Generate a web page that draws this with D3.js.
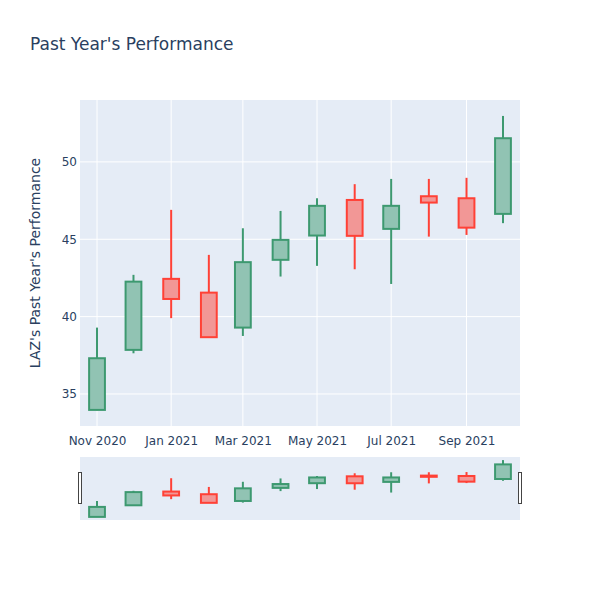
<!DOCTYPE html>
<html>
<head>
<meta charset="utf-8">
<script src="https://cdn.jsdelivr.net/npm/d3@7"></script>
<style>
  html, body { margin: 0; padding: 0; background: #fff; }
  svg { display: block; font-family: "DejaVu Sans", Verdana, sans-serif; }
</style>
</head>
<body>
<svg id="chart" width="600" height="600"></svg>
<script>
// ---- data ----
const dates = ["2020-11-01","2020-12-01","2021-01-01","2021-02-01","2021-03-01","2021-04-01",
               "2021-05-01","2021-06-01","2021-07-01","2021-08-01","2021-09-01","2021-10-01"];
const open  = [33.97, 37.85, 42.44, 41.55, 39.29, 43.67, 45.24, 47.54, 45.67, 47.78, 47.65, 46.64];
const high  = [39.29, 42.70, 46.90, 43.99, 45.71, 46.83, 47.65, 48.56, 48.90, 48.90, 48.97, 52.97];
const low   = [33.95, 37.63, 39.90, 38.65, 38.75, 42.59, 43.28, 43.06, 42.11, 45.17, 45.28, 46.04];
const close = [37.31, 42.26, 41.14, 38.67, 43.52, 44.96, 47.16, 45.22, 47.16, 47.37, 45.75, 51.53];
const yTicks = [35, 40, 45, 50];
const xTickDates = ["2020-11-01","2021-01-01","2021-03-01","2021-05-01","2021-07-01","2021-09-01"];
const titleText = "Past Year's Performance";
const yTitle = "LAZ's Past Year's Performance";

// ---- layout ----
const svg = d3.select("#chart");
const parse = d3.utcParse("%Y-%m-%d");
const rows = dates.map((d, i) => ({ date: parse(d), o: open[i], h: high[i], l: low[i], c: close[i] }));
const DAY = 86400000;
const plot = { left: 80, right: 520, top: 100, bottom: 426 };
const slider = { top: 457, bottom: 520 };

const x = d3.scaleUtc()
  .domain([new Date(rows[0].date - 14 * DAY), new Date(+rows[rows.length - 1].date + 14 * DAY)])
  .range([plot.left, plot.right]);
const yDomain = [32.93, 54.0];
const y = d3.scaleLinear().domain(yDomain).range([plot.bottom, plot.top]);
const ys = d3.scaleLinear().domain(yDomain).range([slider.bottom, slider.top]);

const incColor = "#3D9970", decColor = "#FF4136";
const incFill = "rgba(61,153,112,0.5)", decFill = "rgba(255,65,54,0.5)";
const halfW = d => (x(new Date(+d + 6.5 * DAY)) - x(d));

// background
svg.append("rect").attr("x", plot.left).attr("y", plot.top)
  .attr("width", plot.right - plot.left).attr("height", plot.bottom - plot.top).attr("fill", "#E5ECF6");

// grid
const xt = xTickDates.map(parse);
svg.append("g").selectAll("line").data(xt).join("line")
  .attr("x1", d => x(d)).attr("x2", d => x(d)).attr("y1", plot.top).attr("y2", plot.bottom)
  .attr("stroke", "#fff").attr("stroke-width", 1);
svg.append("g").selectAll("line").data(yTicks).join("line")
  .attr("x1", plot.left).attr("x2", plot.right).attr("y1", d => y(d)).attr("y2", d => y(d))
  .attr("stroke", "#fff").attr("stroke-width", 1);

// axes
const yAxis = d3.axisLeft(y).tickValues(yTicks).tickSize(0).tickPadding(3);
const gy = svg.append("g").attr("transform", `translate(${plot.left},0)`).call(yAxis);
gy.select(".domain").remove();
gy.selectAll("text").attr("fill", "#2a3f5f").style("font-size", "12px").style("font-family", "DejaVu Sans, Verdana, sans-serif");

const xAxis = d3.axisBottom(x).tickValues(xt).tickSize(0).tickPadding(10).tickFormat(d3.utcFormat("%b %Y"));
const gx = svg.append("g").attr("transform", `translate(0,${plot.bottom})`).call(xAxis);
gx.select(".domain").remove();
gx.selectAll("text").attr("fill", "#2a3f5f").style("font-size", "12px").style("font-family", "DejaVu Sans, Verdana, sans-serif");

// candles
function drawCandles(g, yy, sw) {
  const c = g.selectAll("g.c").data(rows).join("g").attr("class", "c");
  c.append("line")
    .attr("x1", d => x(d.date)).attr("x2", d => x(d.date))
    .attr("y1", d => yy(d.h)).attr("y2", d => yy(d.l))
    .attr("stroke", d => d.c >= d.o ? incColor : decColor).attr("stroke-width", sw);
  c.append("rect")
    .attr("x", d => x(d.date) - halfW(d.date))
    .attr("width", d => 2 * halfW(d.date))
    .attr("y", d => yy(Math.max(d.o, d.c)))
    .attr("height", d => Math.abs(yy(d.o) - yy(d.c)))
    .attr("fill", "#E5ECF6")
    .attr("stroke", "none");
  c.append("rect")
    .attr("x", d => x(d.date) - halfW(d.date))
    .attr("width", d => 2 * halfW(d.date))
    .attr("y", d => yy(Math.max(d.o, d.c)))
    .attr("height", d => Math.abs(yy(d.o) - yy(d.c)))
    .attr("fill", d => d.c >= d.o ? incFill : decFill)
    .attr("stroke", d => d.c >= d.o ? incColor : decColor)
    .attr("stroke-width", sw);
}
drawCandles(svg.append("g"), y, 2);

// range slider
svg.append("rect").attr("x", plot.left).attr("y", slider.top)
  .attr("width", plot.right - plot.left).attr("height", slider.bottom - slider.top).attr("fill", "#E5ECF6");
drawCandles(svg.append("g"), ys, 2);
const hTop = slider.top + (slider.bottom - slider.top) / 4 - 0.5;
const hH = (slider.bottom - slider.top) / 2;
[plot.left, plot.right].forEach(px => {
  svg.append("rect").attr("x", px - 2).attr("y", hTop).attr("width", 3.5).attr("height", hH)
    .attr("fill", "#fff").attr("stroke", "#444").attr("stroke-width", 1).attr("shape-rendering", "crispEdges");
});

// titles
svg.append("text").attr("x", 30).attr("y", 50).attr("fill", "#2a3f5f")
  .style("font-size", "17px").text(titleText);
svg.append("text").attr("transform", `translate(40,${(plot.top + plot.bottom) / 2}) rotate(-90)`)
  .attr("text-anchor", "middle").attr("fill", "#2a3f5f").style("font-size", "14px").text(yTitle);
</script>
</body>
</html>
